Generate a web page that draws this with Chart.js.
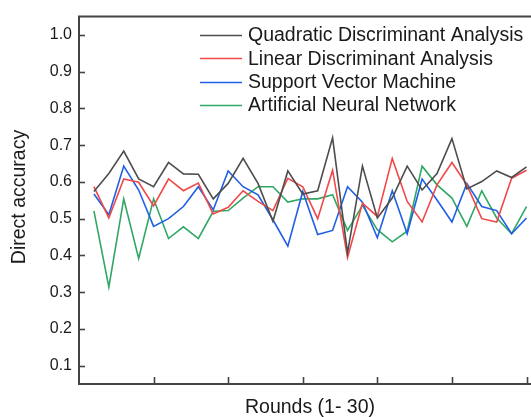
<!DOCTYPE html>
<html>
<head>
<meta charset="utf-8">
<script src="https://cdn.jsdelivr.net/npm/chart.js@4"></script>
<style>
html,body{margin:0;padding:0;background:#fff;overflow:hidden;}
canvas{display:block;}
</style>
</head>
<body>
<canvas id="c" width="531" height="417"></canvas>
<script>
const rounds = [1,2,3,4,5,6,7,8,9,10,11,12,13,14,15,16,17,18,19,20,21,22,23,24,25,26,27,28,29,30];
const qda = [0.574,0.623,0.684,0.608,0.587,0.653,0.622,0.621,0.554,0.596,0.664,0.596,0.493,0.630,0.567,0.576,0.720,0.407,0.643,0.502,0.556,0.643,0.578,0.623,0.718,0.581,0.601,0.630,0.612,0.641];
const lda = [0.587,0.502,0.608,0.599,0.535,0.608,0.576,0.597,0.513,0.531,0.576,0.547,0.522,0.610,0.587,0.500,0.632,0.394,0.542,0.506,0.664,0.547,0.491,0.592,0.653,0.592,0.500,0.491,0.610,0.632];
const svm = [0.567,0.511,0.643,0.578,0.479,0.500,0.533,0.587,0.524,0.630,0.587,0.565,0.497,0.425,0.574,0.457,0.468,0.587,0.545,0.448,0.576,0.459,0.608,0.551,0.491,0.596,0.533,0.522,0.459,0.502];
const ann = [0.521,0.314,0.554,0.392,0.554,0.446,0.478,0.446,0.520,0.522,0.556,0.587,0.587,0.545,0.554,0.554,0.565,0.468,0.536,0.470,0.437,0.466,0.643,0.592,0.556,0.479,0.576,0.502,0.459,0.533];
const seriesNames = ['Quadratic Discriminant Analysis','Linear Discriminant Analysis','Support Vector Machine','Artificial Neural Network'];
const seriesColors = ['#4d4d4d','#f04848','#1f5fe6','#30a865'];
const yTickValues = [0.1,0.2,0.3,0.4,0.5,0.6,0.7,0.8,0.9,1.0];
const xTickValues = [5,10,15,20,25,30];
const xTitle = 'Rounds (1- 30)';
const yTitle = 'Direct accuracy';

const FONT = '"Liberation Sans", Arial, sans-serif';
const AXIS = '#444444';

function pts(arr){ return rounds.map((r,i)=>({x:r,y:arr[i]})); }

const decor = {
  id:'decor',
  afterDraw(chart){
    const ctx = chart.ctx, a = chart.chartArea;
    const xs = chart.scales.x, ys = chart.scales.y;
    ctx.save();
    // top border
    ctx.strokeStyle = AXIS; ctx.lineWidth = 2;
    ctx.beginPath(); ctx.moveTo(a.left-1, a.top); ctx.lineTo(a.right+2, a.top); ctx.stroke();
    // inward ticks
    ctx.lineWidth = 1.6;
    yTickValues.forEach(v=>{
      const y = Math.round(ys.getPixelForValue(v))+0.5;
      ctx.beginPath(); ctx.moveTo(a.left, y); ctx.lineTo(a.left+6, y); ctx.stroke();
    });
    xTickValues.forEach(v=>{
      const x = Math.round(xs.getPixelForValue(v))+0.5;
      ctx.beginPath(); ctx.moveTo(x, a.bottom); ctx.lineTo(x, a.bottom-7); ctx.stroke();
    });
    // titles
    ctx.fillStyle = '#1a1a1a';
    ctx.font = '19.5px ' + FONT;
    ctx.textAlign = 'center'; ctx.textBaseline = 'middle';
    ctx.fillText(xTitle, 310, 408);
    ctx.save();
    ctx.translate(20, 197); ctx.rotate(-Math.PI/2);
    ctx.fillText(yTitle, 0, 0);
    ctx.restore();
    // legend
    ctx.textAlign = 'left';
    seriesNames.forEach((n,i)=>{
      const y = 35 + i*23.3;
      ctx.strokeStyle = seriesColors[i]; ctx.lineWidth = 1.6;
      ctx.beginPath(); ctx.moveTo(200, Math.round(y)+0.5); ctx.lineTo(242, Math.round(y)+0.5); ctx.stroke();
      ctx.fillStyle = '#1a1a1a';
      ctx.fillText(n, 248, y+1);
    });
    ctx.restore();
  }
};

new Chart(document.getElementById('c'), {
  type:'line',
  data:{
    datasets:[qda,lda,svm,ann].map((arr,i)=>({
      label: seriesNames[i],
      data: pts(arr),
      borderColor: seriesColors[i],
      backgroundColor: seriesColors[i],
      borderWidth: 1.6,
      pointRadius: 0,
      tension: 0,
      fill: false
    }))
  },
  options:{
    responsive:false,
    animation:false,
    layout:{padding:{left:0,right:0,top:13,bottom:0}},
    plugins:{legend:{display:false},tooltip:{enabled:false}},
    scales:{
      x:{
        type:'linear', min:0, max:30.3,
        afterFit(s){ s.height = 33; },
        afterBuildTicks(s){ s.ticks = xTickValues.map(v=>({value:v})); },
        grid:{display:true, drawOnChartArea:false, drawTicks:false},
        border:{display:true, color:AXIS, width:2},
        ticks:{display:false}
      },
      y:{
        min:0.05, max:1.05,
        afterFit(s){ s.width = 79; },
        afterBuildTicks(s){ s.ticks = yTickValues.map(v=>({value:v})); },
        grid:{display:true, drawOnChartArea:false, drawTicks:false},
        border:{display:true, color:AXIS, width:2},
        ticks:{padding:7, color:'#1a1a1a', font:{family:FONT, size:16}, callback:(v)=>Number(v).toFixed(1)}
      }
    }
  },
  plugins:[decor]
});
</script>
</body>
</html>
